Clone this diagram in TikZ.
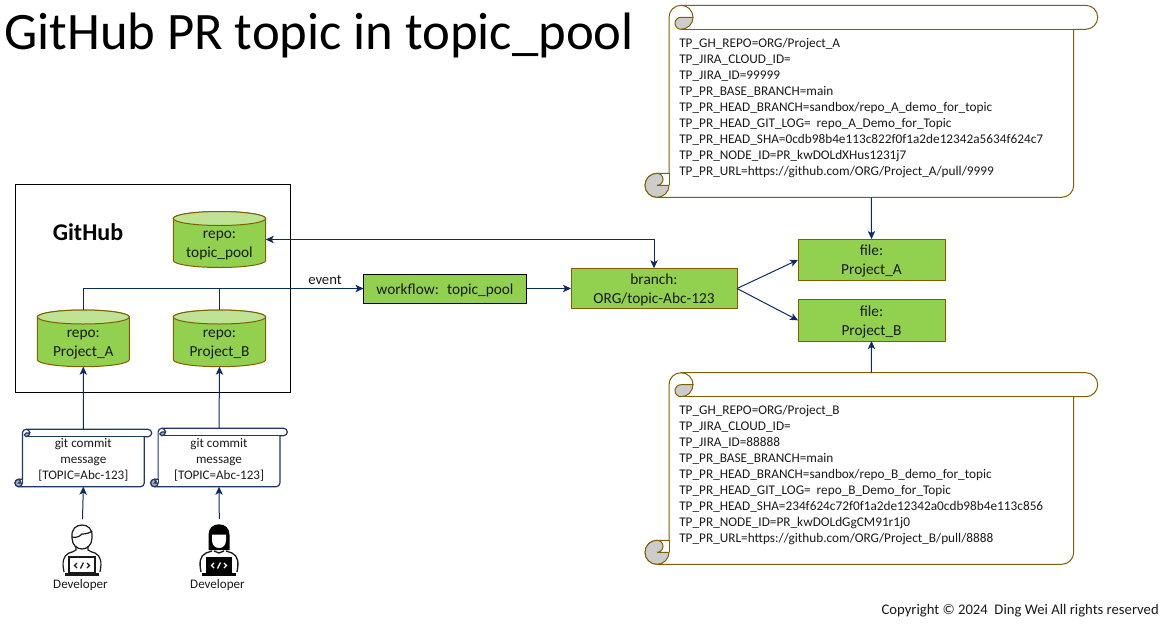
\documentclass[tikz,border=0pt]{standalone}
\usepackage{fontspec}
\setmainfont{Carlito}
\usetikzlibrary{arrows.meta}
\definecolor{ngreen}{HTML}{92D050}
\definecolor{ntop}{HTML}{BEE395}
\definecolor{nedge}{HTML}{7F6000}
\definecolor{navyl}{HTML}{0B2A66}
\definecolor{scrollb}{HTML}{1F3864}
\definecolor{curl}{HTML}{CCCCCC}
\definecolor{curlb}{HTML}{A5AEC0}
\definecolor{ink}{HTML}{1A1A1A}
\newcommand{\tp}{\rule{0pt}{10pt}}
\tikzset{
  x=0.75pt,y=-0.75pt,
  gbox/.style={draw=nedge,fill=ngreen,line width=0.75pt,align=center,font=\fontsize{11.5}{14.2}\selectfont,inner sep=0pt,text=ink,outer sep=0pt},
  conn/.style={draw=navyl,line width=0.75pt,-{Stealth[length=6pt,width=5.5pt,inset=1.5pt]}},
  biconn/.style={draw=navyl,line width=0.75pt,{Stealth[length=6pt,width=5.5pt,inset=1.5pt]}-{Stealth[length=6pt,width=5.5pt,inset=1.5pt]}},
  plainconn/.style={draw=navyl,line width=0.75pt},
  lbl/.style={inner sep=0pt,font=\fontsize{9.8}{11}\selectfont,text=ink},
  scrolltext/.style={inner sep=0pt,anchor=north west,align=left,font=\fontsize{9.95}{11.97}\selectfont,text=ink},
  msgtext/.style={inner sep=0pt,align=center,font=\fontsize{9.8}{12}\selectfont,text=ink},
  anchorbox/.style={inner sep=0pt,outer sep=0pt,draw=none},
}
% #1 name, #2 L, #3 T, #4 R, #5 B, #6 r, #7 line colour, #8 curl fill, #9 line width
\newcommand{\scrollshape}[9]{%
  \pgfmathsetmacro{\rr}{#6}%
  \pgfmathsetmacro{\rp}{#6*0.75}%
  \pgfmathsetmacro{\rh}{#6*0.375}%
  \pgfmathsetmacro{\xl}{#2+2*#6}%
  \pgfmathsetmacro{\xr}{#4-2*#6}%
  \filldraw[fill=white,draw=#7,line width=#9]
    (\xl,#3+\rr) arc[start angle=180,end angle=90,radius=\rp pt]
    -- (#4-\rr,#3) arc[start angle=90,end angle=-90,radius=\rp pt]
    -- (\xr,#3+2*\rr) -- (\xr,#5-\rr) arc[start angle=0,end angle=-90,radius=\rp pt]
    -- (#2+\rr,#5) arc[start angle=270,end angle=90,radius=\rp pt]
    -- (\xl,#5-2*\rr) -- cycle;
  \draw[#7,line width=#9] (\xl+\rr,#3+2*\rr) -- (\xr,#3+2*\rr);
  \draw[#7,line width=#9] (\xl,#5-2*\rr) -- (\xl,#5-\rr);
  \filldraw[fill=#8,draw=#7,line width=#9]
    (\xl+\rr,#3+\rr) arc[start angle=90,end angle=270,radius=\rh pt]
    arc[start angle=270,end angle=360,radius=\rp pt] -- cycle;
  \draw[#7,line width=#9] (\xl+2*\rr,#3+\rr) arc[start angle=0,end angle=90,radius=\rp pt];
  \filldraw[fill=#8,draw=#7,line width=#9]
    (#2+\rr,#5-2*\rr) arc[start angle=90,end angle=360,radius=\rp pt]
    -- (#2+\rr,#5-\rr) arc[start angle=270,end angle=450,radius=\rh pt] -- cycle;
  \node[anchorbox,minimum width={(#4-#2)*0.75pt},minimum height={(#5-#3)*0.75pt}] (#1) at ({(#2+#4)/2},{(#3+#5)/2}) {};
}
% #1 name, #2 L, #3 T, #4 R, #5 B, #6 first line, #7 second line
\newcommand{\repocyl}[7]{%
  \filldraw[fill=ngreen,draw=nedge,line width=0.75pt]
    (#2,#3+7) -- (#2,#5-7) arc[x radius={(#4-#2)*0.375pt},y radius=5.25pt,start angle=180,end angle=360]
    -- (#4,#3+7) arc[x radius={(#4-#2)*0.375pt},y radius=5.25pt,start angle=0,end angle=180] -- cycle;
  \filldraw[fill=ntop,draw=nedge,line width=0.75pt]
    ({(#2+#4)/2},#3+7) ellipse[x radius={(#4-#2)*0.375pt},y radius=5.25pt];
  \node[anchorbox,minimum width={(#4-#2)*0.75pt},minimum height={(#5-#3)*0.75pt}] (#1) at ({(#2+#4)/2},{(#3+#5)/2}) {};
  \node[anchorbox,align=center,font=\fontsize{11.5}{14.4}\selectfont,text=ink] (#1text) at ({(#2+#4)/2},{(#3+#5)/2+6}) {#6\\#7};
}
\begin{document}
\begin{tikzpicture}
\useasboundingbox (0,0) rectangle (1166,625);
\fill[white] (0,0) rectangle (1166,625);

\node[anchor=west,inner sep=0pt,font=\fontsize{39.5}{44}\selectfont,text=black] (title) at (4,35) {GitHub PR topic in topic\_pool};

% GitHub frame
\node[draw=black,line width=0.8pt,anchorbox,draw=black,minimum width={275*0.75pt},minimum height={208*0.75pt}] (frame) at (152.8,288.3) {};
\node[anchorbox,font=\bfseries\fontsize{18}{20}\selectfont,text=black] (github) at (88,232) {GitHub};

\repocyl{topic}{173.3}{211.5}{265.7}{267.5}{repo:}{topic\_pool}
\repocyl{repoA}{37.3}{310}{129.3}{366.7}{repo:}{Project\_A}
\repocyl{repoB}{173.3}{310}{265.7}{366.7}{repo:}{Project\_B}

% green boxes
\node[gbox,draw=black,minimum width={163*0.75pt},minimum height={29*0.75pt}] (workflow) at (445,289) {\tp workflow:~ topic\_pool};
\coordinate (wfin) at ([yshift=0.375pt]workflow.west);
\coordinate (wfout) at ([yshift=0.375pt]workflow.east);
\node[gbox,minimum width={166*0.75pt},minimum height={40.5*0.75pt}] (branch) at (654,288.5) {\tp branch:\\ORG/topic-Abc-123};
\node[gbox,minimum width={147*0.75pt},minimum height={41.5*0.75pt}] (fileA) at (871.5,259.8) {\tp file:\\Project\_A};
\node[gbox,minimum width={147*0.75pt},minimum height={41.5*0.75pt}] (fileB) at (871.5,320.3) {\tp file:\\Project\_B};

% big scrolls
\scrollshape{scrollA}{645}{5.3}{1097.7}{197.3}{12}{nedge}{curl}{0.75pt}
\node[scrolltext] (textA) at (679,38) {TP\_GH\_REPO=ORG/Project\_A\\TP\_JIRA\_CLOUD\_ID=\\TP\_JIRA\_ID=99999\\TP\_PR\_BASE\_BRANCH=main\\TP\_PR\_HEAD\_BRANCH=sandbox/repo\_A\_demo\_for\_topic\\TP\_PR\_HEAD\_GIT\_LOG=~ repo\_A\_Demo\_for\_Topic\\TP\_PR\_HEAD\_SHA=0cdb98b4e113c822f0f1a2de12342a5634f624c7\\TP\_PR\_NODE\_ID=PR\_kwDOLdXHus1231j7\\TP\_PR\_URL=https://github.com/ORG/Project\_A/pull/9999};
\scrollshape{scrollB}{645}{372.7}{1097.7}{564.3}{12}{nedge}{curl}{0.75pt}
\node[scrolltext] (textB) at (679,405) {TP\_GH\_REPO=ORG/Project\_B\\TP\_JIRA\_CLOUD\_ID=\\TP\_JIRA\_ID=88888\\TP\_PR\_BASE\_BRANCH=main\\TP\_PR\_HEAD\_BRANCH=sandbox/repo\_B\_demo\_for\_topic\\TP\_PR\_HEAD\_GIT\_LOG=~ repo\_B\_Demo\_for\_Topic\\TP\_PR\_HEAD\_SHA=234f624c72f0f1a2de12342a0cdb98b4e113c856\\TP\_PR\_NODE\_ID=PR\_kwDOLdGgCM91r1j0\\TP\_PR\_URL=https://github.com/ORG/Project\_B/pull/8888};

% small scrolls
\scrollshape{msgA}{15}{429.3}{151.7}{486.7}{3.7}{scrollb}{curlb}{0.9pt}
\node[msgtext] (msgAtext) at (83.3,460) {git commit\\message\\{[}TOPIC=Abc-123{]}};
\scrollshape{msgB}{150.7}{428.3}{287.3}{486.7}{3.7}{scrollb}{curlb}{0.9pt}
\node[msgtext] (msgBtext) at (219,460) {git commit\\message\\{[}TOPIC=Abc-123{]}};

% developer 1 icon
\begin{scope}[shift={(82,0)}]
  \draw[ink,line width=0.9pt] (-18,572) .. controls (-20,562) and (-19,556) .. (-13,553) .. controls (-11,552) and (-8,552) .. (-6,550) -- (-6,546);
  \draw[ink,line width=0.9pt] (18,572) .. controls (20,562) and (19,556) .. (13,553) .. controls (11,552) and (8,552) .. (6,550) -- (6,546);
  \draw[ink,line width=0.9pt] (-10,538) .. controls (-11,529) and (-6,525) .. (0,525) .. controls (6,525) and (11,529) .. (10,538) .. controls (10,545) and (5,549) .. (0,549) .. controls (-5,549) and (-10,545) .. (-10,538) -- cycle;
  \draw[ink,line width=0.9pt] (-10,537) .. controls (-6,538) and (-3,537) .. (0,534) .. controls (4,534) and (8,533) .. (10,531);
  \filldraw[fill=white,draw=ink,line width=0.9pt] (-13,557) rectangle (13,573);
  \draw[ink,line width=1.6pt] (-17,574.5) -- (17,574.5);
  \draw[ink,line width=0.9pt] (-5,563) -- (-7.5,565.5) -- (-5,568) (5,563) -- (7.5,565.5) -- (5,568) (-1.5,568.5) -- (1.5,562.5);
\end{scope}
% developer 2 icon
\begin{scope}[shift={(219,0)}]
  \draw[ink,line width=1pt] (-18,572) .. controls (-20,562) and (-19,556) .. (-13,553) -- (-7,551);
  \draw[ink,line width=1pt] (18,572) .. controls (20,562) and (19,556) .. (13,553) -- (7,551);
  \fill[black] (-10.5,550) -- (-10.5,535) .. controls (-10.5,528) and (-6,524.3) .. (0,524.3) .. controls (6,524.3) and (10.5,528) .. (10.5,535) -- (10.5,550) -- (5,550) -- (-5,550) -- cycle;
  \fill[white] (-7,534.5) -- (7,534.5) -- (7,540) .. controls (7,545) and (4,548) .. (0,548) .. controls (-4,548) and (-7,545) .. (-7,540) -- cycle;
  \draw[ink,line width=1pt] (-5,551) -- (0,553) -- (5,551);
  \fill[black] (-13,557) rectangle (13,573);
  \draw[black,line width=1.6pt] (-17,574.5) -- (17,574.5);
  \draw[white,line width=0.9pt] (-5,563) -- (-7.5,565.5) -- (-5,568) (5,563) -- (7.5,565.5) -- (5,568) (-1.5,568.5) -- (1.5,562.5);
\end{scope}
\node[anchorbox,minimum width={40*0.75pt},minimum height={56*0.75pt}] (dev1) at (82.5,547) {};
\node[anchorbox,minimum width={40*0.75pt},minimum height={56*0.75pt}] (dev2) at (219.3,547) {};
\node[lbl] (dev1label) at (80.5,585) {Developer};
\node[lbl] (dev2label) at (217.5,585) {Developer};

% connectors
\draw[conn] (msgA.north) -- (repoA.south);
\draw[conn] (msgB.north) -- (repoB.south);
\draw[conn] (dev1.north) -- (msgA.south);
\draw[conn] (dev2.north) -- (msgB.south);
\draw[conn] (repoA.north) |- (wfin);
\draw[plainconn] (repoB.north) -- (repoB.north |- wfin);
\draw[biconn] (topic.east) -| (branch.north);
\draw[conn] (wfout) -- (branch.west);
\draw[conn] (branch.east) -- (fileA.west);
\draw[conn] (branch.east) -- (fileB.west);
\draw[conn] (scrollA.south) -- (fileA.north);
\draw[conn] (scrollB.north) -- (fileB.south);

\node[lbl,font=\fontsize{11}{12}\selectfont] (event) at (325,280) {event};
\node[anchor=east,inner sep=0pt,font=\fontsize{11}{12}\selectfont,text=ink] (copyright) at (1159,610.5) {Copyright © 2024~ Ding Wei All rights reserved};
\end{tikzpicture}
\end{document}
